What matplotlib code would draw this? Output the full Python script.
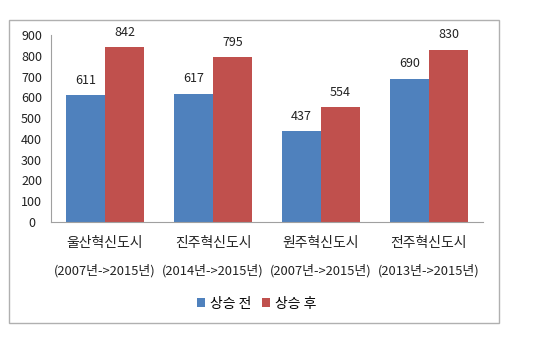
import matplotlib.pyplot as plt
import matplotlib.patches as mpatches
import numpy as np

plt.rcParams['font.family'] = ['Noto Sans CJK KR', 'DejaVu Sans']

# 데이터
cities = ['울산혁신도시', '진주혁신도시', '원주혁신도시', '전주혁신도시']
periods = ['(2007년->2015년)', '(2014년->2015년)', '(2007년->2015년)', '(2013년->2015년)']
before = [611, 617, 437, 690]
after = [842, 795, 554, 830]
series_names = ['상승 전', '상승 후']

blue = '#4F81BD'
red = '#C0504D'

fig = plt.figure(figsize=(5.4, 3.51), dpi=100)

# 바깥 테두리
border = mpatches.Rectangle((0.017, 0.080), 0.907, 0.863, transform=fig.transFigure,
                            fill=False, edgecolor='#b0b0b0', linewidth=1.0)
fig.patches.append(border)

ax = fig.add_axes([0.0944, 0.3675, 0.80, 0.5328])

x = np.arange(len(cities))
w = 0.36
b1 = ax.bar(x - w / 2, before, w, color=blue, label=series_names[0])
b2 = ax.bar(x + w / 2, after, w, color=red, label=series_names[1])

for bars in (b1, b2):
    for r in bars:
        ax.text(r.get_x() + r.get_width() / 2, r.get_height() + 40, f'{int(r.get_height())}',
                ha='center', va='bottom', fontsize=9, color='#222222')

ax.set_xlim(-0.5, 3.5)
ax.set_ylim(0, 900)
ax.set_yticks(range(0, 901, 100))
ax.set_xticks(x)
ax.set_xticklabels(cities, fontsize=10)
ax.tick_params(axis='both', length=0, labelsize=9, colors='#222222')
ax.tick_params(axis='x', labelsize=10, pad=10)
ax.tick_params(axis='y', pad=14)
for lbl in ax.get_yticklabels():
    lbl.set_horizontalalignment('center')

# 기간 표시 (두 번째 줄)
for xi, p in zip(x, periods):
    ax.annotate(p, xy=(xi, 0), xycoords=('data', 'axes fraction'), xytext=(0, -40),
                textcoords='offset points', ha='center', va='bottom', fontsize=9.3,
                color='#222222')

for s in ('top', 'right'):
    ax.spines[s].set_visible(False)
for s in ('left', 'bottom'):
    ax.spines[s].set_color('#a0a0a0')

fig.legend(handles=[b1, b2], loc='center', bbox_to_anchor=(0.475, 0.135), ncol=2,
           frameon=False, fontsize=10, handlelength=0.6, handleheight=0.6,
           handletextpad=0.3, columnspacing=0.8)

fig.savefig('out.png', dpi=100)
